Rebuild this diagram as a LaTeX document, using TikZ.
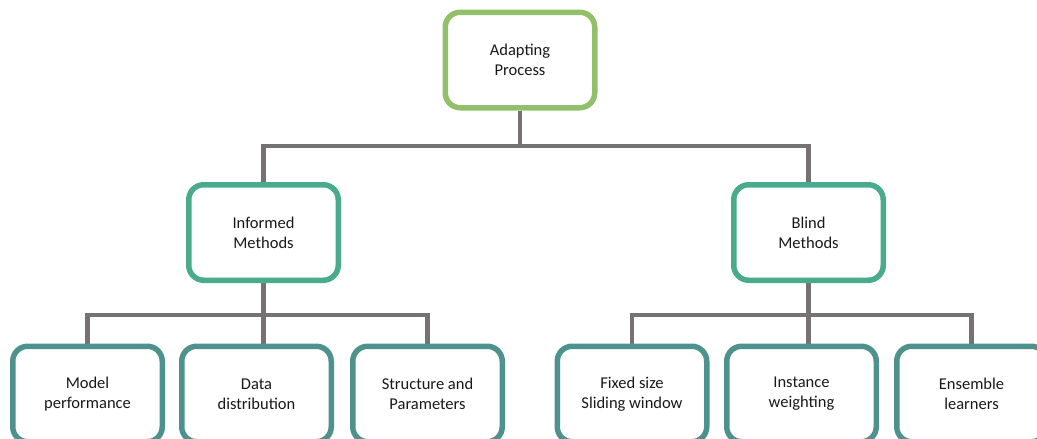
\documentclass[tikz,border=0pt]{standalone}
\usepackage{fontspec}
\setmainfont{Carlito}
\usetikzlibrary{backgrounds}
\definecolor{rootgreen}{RGB}{146,192,106}
\definecolor{midteal}{RGB}{72,172,140}
\definecolor{leafteal}{RGB}{78,146,142}
\definecolor{linkgray}{RGB}{118,114,114}
\tikzset{
  box/.style={draw, fill=white, line width=5.5pt, rounded corners=15pt,
    minimum width=149.5pt, minimum height=95.5pt, align=center,
    font=\fontsize{16.5}{20}\selectfont, text=black!90},
  rootbox/.style={box, draw=rootgreen},
  midbox/.style={box, draw=midteal},
  leafbox/.style={box, draw=leafteal},
  conn/.style={draw=linkgray, line width=4.5pt, line join=miter}
}
\begin{document}
\begin{tikzpicture}[x=1pt, y=-1pt]
  \useasboundingbox (0,0) rectangle (1037,439);
  \clip (0,0) rectangle (1037,439);

  % hierarchy boxes
  \node[rootbox] (top)    at (520,60)    {Adapting\\Process};
  \node[midbox]  (inf)    at (263.5,232.5) {Informed\\Methods};
  \node[midbox]  (blind)  at (808.5,232.5) {Blind\\Methods};
  \node[leafbox] (model)  at (87.5,394)  {Model\\performance};
  \node[leafbox] (data)   at (256.5,394) {Data\\distribution};
  \node[leafbox] (struct) at (427.5,394) {Structure and\\Parameters};
  \node[leafbox] (fixed)  at (632,394)   {Fixed size\\Sliding window};
  \node[leafbox] (inst)   at (801.5,394) {Instance\\weighting};
  \node[leafbox] (ens)    at (971.5,394) {Ensemble\\learners};

  % bus junctions
  \coordinate (busA) at (520,146);
  \coordinate (busB) at (264,315);
  \coordinate (busC) at (809,315);

  \begin{scope}[on background layer]
    \draw[conn] (top.south) -- (busA);
    \draw[conn] (inf.north) |- (busA) -| (blind.north);

    \draw[conn] (inf.south) -- (inf.south |- data.north);
    \draw[conn] (model.north) |- (busB) -| (struct.north);

    \draw[conn] (blind.south) -- (blind.south |- inst.north);
    \draw[conn] (fixed.north) |- (busC) -| (ens.north);
  \end{scope}
\end{tikzpicture}
\end{document}
